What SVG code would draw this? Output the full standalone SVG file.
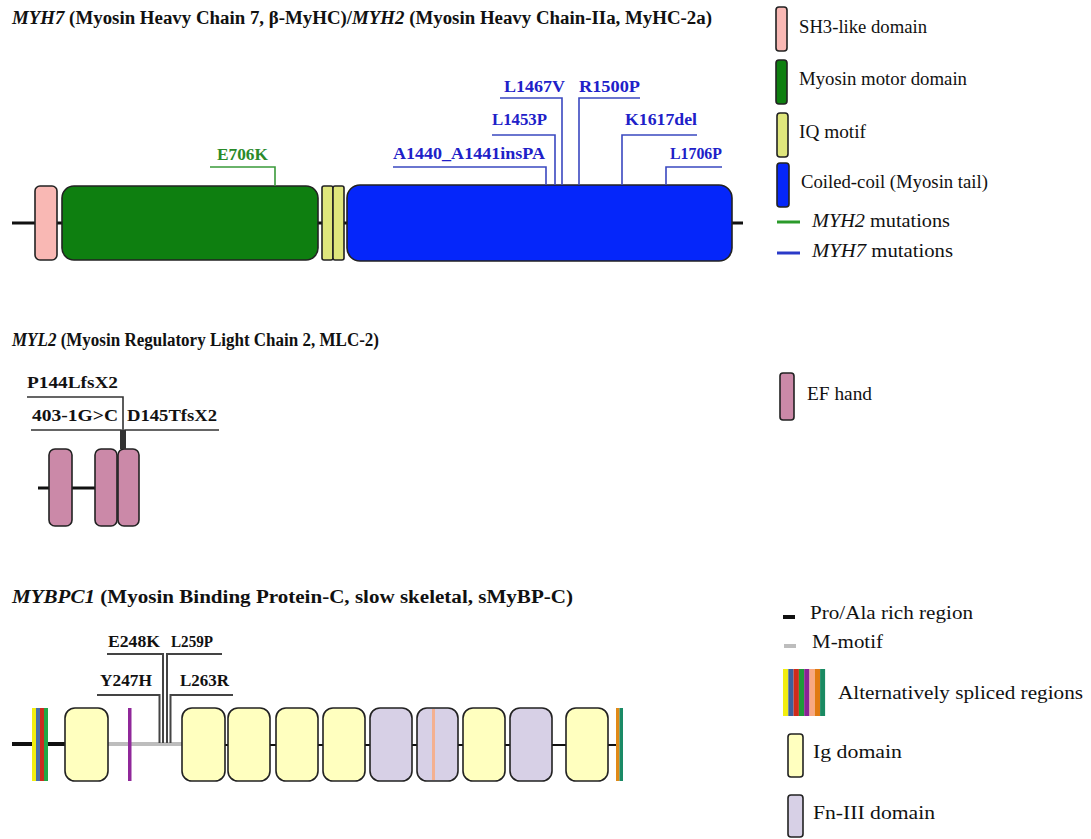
<svg xmlns="http://www.w3.org/2000/svg" width="1091" height="839" viewBox="0 0 1091 839" font-family="'Liberation Serif', 'Times New Roman', serif">
<style>
text{font-family:"Liberation Serif","Times New Roman",serif;fill:#111}
.t{font-size:18px;font-weight:bold}
.lg{font-size:18.5px}
.mb{font-size:17px;font-weight:bold;fill:#2020c8}
.mg{font-size:17px;font-weight:bold;fill:#2a8a2a}
.mk{font-size:17px;font-weight:bold;fill:#111}
.bl{stroke:#3a48c0;stroke-width:1.6;fill:none}
.gl{stroke:#3a9a3a;stroke-width:1.6;fill:none}
.kl{stroke:#333;stroke-width:1.6;fill:none}
.gk{stroke:#444;stroke-width:2;fill:none}
.bk{stroke:#111;stroke-width:3}
.thin{stroke:#111;stroke-width:2}
.dom{stroke:#222;stroke-width:1.6}
.ig{fill:#ffffbf}
.fn{fill:#d7d0e6}
</style>

<!-- Titles -->
<text class="t" x="12" y="24" textLength="700" lengthAdjust="spacingAndGlyphs"><tspan font-style="italic">MYH7</tspan> (Myosin Heavy Chain 7, β-MyHC)/<tspan font-style="italic">MYH2</tspan> (Myosin Heavy Chain-IIa, MyHC-2a)</text>
<text class="t" x="12" y="346" textLength="367" lengthAdjust="spacingAndGlyphs"><tspan font-style="italic">MYL2</tspan> (Myosin Regulatory Light Chain 2, MLC-2)</text>
<text class="t" x="12" y="603" textLength="561" lengthAdjust="spacingAndGlyphs"><tspan font-style="italic">MYBPC1</tspan> (Myosin Binding Protein-C, slow skeletal, sMyBP-C)</text>

<!-- MYH7 / MYH2 protein -->
<g id="myh-backbone"><line class="bk" x1="12" y1="223" x2="743" y2="223"/></g>
<g id="sh3"><rect class="dom" x="35" y="186" width="22" height="74" rx="5" fill="#f9b8b4"/></g>
<g id="motor"><rect class="dom" x="62" y="186" width="256" height="74" rx="12" fill="#0e7f10"/></g>
<g id="iq1"><rect class="dom" x="322" y="186" width="11" height="74" rx="2" fill="#dfe67c"/></g>
<g id="iq2"><rect class="dom" x="333" y="186" width="11" height="74" rx="2" fill="#dfe67c"/></g>
<g id="coiled"><rect class="dom" x="347" y="185" width="385" height="76" rx="13" fill="#0526fa"/></g>

<!-- MYL2 protein -->
<g id="myl2-backbone"><line class="bk" x1="38" y1="488" x2="96" y2="488"/></g>
<g id="ef1"><rect class="dom" x="49" y="449" width="23" height="77" rx="6" fill="#cb89a8"/></g>
<g id="ef2"><rect class="dom" x="95" y="449" width="22" height="77" rx="6" fill="#cb89a8"/></g>
<g id="ef3"><rect class="dom" x="118" y="449" width="21" height="77" rx="6" fill="#cb89a8"/></g>

<!-- MYBPC1 protein -->
<g id="mybpc-backbone">
<line stroke="#111" stroke-width="4" x1="12" y1="744" x2="66" y2="744"/>
<line stroke="#bdbdbd" stroke-width="4" x1="108" y1="744" x2="183" y2="744"/>
<line class="thin" x1="550" y1="745" x2="567" y2="745"/>
<line class="thin" x1="606" y1="745" x2="618" y2="745"/>
<line class="thin" x1="224" y1="745" x2="230" y2="745"/>
<line class="thin" x1="269" y1="745" x2="277" y2="745"/>
<line class="thin" x1="316" y1="745" x2="324" y2="745"/>
<line class="thin" x1="364" y1="745" x2="371" y2="745"/>
<line class="thin" x1="411" y1="745" x2="418" y2="745"/>
<line class="thin" x1="457" y1="745" x2="464" y2="745"/>
<line class="thin" x1="504" y1="745" x2="511" y2="745"/>
</g>
<g id="splice-left">
<rect x="32" y="708" width="4" height="73" fill="#f2ee10"/>
<rect x="36" y="708" width="4" height="73" fill="#4a6ea8"/>
<rect x="40" y="708" width="4" height="73" fill="#cc2a20"/>
<rect x="44" y="708" width="4" height="73" fill="#22a646"/>
</g>
<g id="ig1"><rect class="dom ig" x="65" y="708" width="43" height="73" rx="10"/></g>
<g id="pa-purple"><rect x="128" y="708" width="3.5" height="73" fill="#90289a"/></g>
<g id="ig2"><rect class="dom ig" x="182" y="708" width="43" height="73" rx="10"/></g>
<g id="ig3"><rect class="dom ig" x="228" y="708" width="42" height="73" rx="10"/></g>
<g id="ig4"><rect class="dom ig" x="276" y="708" width="42" height="73" rx="10"/></g>
<g id="ig5"><rect class="dom ig" x="323" y="708" width="42" height="73" rx="10"/></g>
<g id="fn1"><rect class="dom fn" x="370" y="708" width="42" height="73" rx="10"/></g>
<g id="fn2"><rect class="dom fn" x="417" y="708" width="41" height="73" rx="10"/><rect x="432" y="709" width="3" height="71" fill="#f4b090"/></g>
<g id="ig6"><rect class="dom ig" x="463" y="708" width="42" height="73" rx="10"/></g>
<g id="fn3"><rect class="dom fn" x="510" y="708" width="42" height="73" rx="10"/></g>
<g id="ig7"><rect class="dom ig" x="566" y="708" width="42" height="73" rx="10"/></g>
<g id="splice-right">
<rect x="616" y="708" width="3.5" height="73" fill="#e08a18"/>
<rect x="619.5" y="708" width="3.5" height="73" fill="#1a8a66"/>
</g>

<!-- Mutation connectors -->
<g id="connectors">
<polyline class="gl" points="210,167 275,167 275,186"/>
<polyline class="bl" points="500,98 562,98 562,185"/>
<polyline class="bl" points="640,98 579,98 579,185"/>
<polyline class="bl" points="492,135 555,135 555,185"/>
<polyline class="bl" points="697,135 622,135 622,185"/>
<polyline class="bl" points="393,167 546,167 546,185"/>
<polyline class="bl" points="722,167 666,167 666,185"/>
<polyline class="kl" points="27,397 123,397 123,449"/>
<polyline class="kl" points="31,430 121,430 121,449"/>
<polyline class="kl" points="219,430 125,430 125,449"/>
<rect x="120" y="430" width="6" height="19" fill="#333"/>
<polyline class="gk" points="107,654 163,654 163,743"/>
<polyline class="gk" points="222,654 167,654 167,743"/>
<polyline class="gk" points="97,695 159.5,695 159.5,743"/>
<polyline class="gk" points="233,695 170.5,695 170.5,743"/>
</g>

<!-- Mutation labels -->
<g id="labels">
<text class="mg" x="217" y="160" textLength="51" lengthAdjust="spacingAndGlyphs">E706K</text>
<text class="mb" x="504" y="92" textLength="61" lengthAdjust="spacingAndGlyphs">L1467V</text>
<text class="mb" x="579" y="92" textLength="61" lengthAdjust="spacingAndGlyphs">R1500P</text>
<text class="mb" x="492" y="125" textLength="55" lengthAdjust="spacingAndGlyphs">L1453P</text>
<text class="mb" x="625" y="125" textLength="72" lengthAdjust="spacingAndGlyphs">K1617del</text>
<text class="mb" x="393" y="159" textLength="152" lengthAdjust="spacingAndGlyphs">A1440_A1441insPA</text>
<text class="mb" x="670" y="159" textLength="52" lengthAdjust="spacingAndGlyphs">L1706P</text>
<text class="mk" x="27" y="388" textLength="91" lengthAdjust="spacingAndGlyphs">P144LfsX2</text>
<text class="mk" x="32" y="421" textLength="86" lengthAdjust="spacingAndGlyphs">403-1G&gt;C</text>
<text class="mk" x="127" y="421" textLength="90" lengthAdjust="spacingAndGlyphs">D145TfsX2</text>
<text class="mk" x="108" y="647" textLength="52" lengthAdjust="spacingAndGlyphs">E248K</text>
<text class="mk" x="171" y="647" textLength="42" lengthAdjust="spacingAndGlyphs">L259P</text>
<text class="mk" x="100" y="686" textLength="52" lengthAdjust="spacingAndGlyphs">Y247H</text>
<text class="mk" x="180" y="686" textLength="49" lengthAdjust="spacingAndGlyphs">L263R</text>
</g>

<!-- Legend -->
<g id="legend-sh3"><rect class="dom" x="776" y="7" width="11" height="44" rx="3" fill="#f9b8b4"/><text class="lg" x="799" y="33" textLength="128" lengthAdjust="spacingAndGlyphs">SH3-like domain</text></g>
<g id="legend-motor"><rect class="dom" x="776" y="60" width="11" height="44" rx="3" fill="#0e7f10"/><text class="lg" x="799" y="85" textLength="168" lengthAdjust="spacingAndGlyphs">Myosin motor domain</text></g>
<g id="legend-iq"><rect class="dom" x="777" y="113" width="11" height="44" rx="3" fill="#dfe67c"/><text class="lg" x="799" y="138" textLength="67" lengthAdjust="spacingAndGlyphs">IQ motif</text></g>
<g id="legend-coiled"><rect class="dom" x="777" y="163" width="12" height="44" rx="3" fill="#0526fa"/><text class="lg" x="801" y="188" textLength="187" lengthAdjust="spacingAndGlyphs">Coiled-coil (Myosin tail)</text></g>
<g id="legend-myh2"><line stroke="#2a9a2a" stroke-width="3" x1="777" y1="222" x2="800" y2="222"/><text class="lg" x="812" y="227" textLength="138" lengthAdjust="spacingAndGlyphs"><tspan font-style="italic">MYH2</tspan> mutations</text></g>
<g id="legend-myh7"><line stroke="#2a3ac8" stroke-width="3" x1="777" y1="253" x2="800" y2="253"/><text class="lg" x="812" y="257" textLength="141" lengthAdjust="spacingAndGlyphs"><tspan font-style="italic">MYH7</tspan>  mutations</text></g>
<g id="legend-ef"><rect class="dom" x="780" y="373" width="14" height="47" rx="3" fill="#cb89a8"/><text class="lg" x="807" y="400" textLength="65" lengthAdjust="spacingAndGlyphs">EF hand</text></g>
<g id="legend-proala"><line stroke="#111" stroke-width="4" x1="783" y1="617" x2="795" y2="617"/><text class="lg" x="810" y="619" textLength="163" lengthAdjust="spacingAndGlyphs">Pro/Ala rich region</text></g>
<g id="legend-mmotif"><line stroke="#bdbdbd" stroke-width="4" x1="784" y1="646" x2="796" y2="646"/><text class="lg" x="812" y="648" textLength="71" lengthAdjust="spacingAndGlyphs">M-motif</text></g>
<g id="legend-splice">
<rect x="783" y="669" width="5.3" height="47" fill="#f2ee10"/>
<rect x="788.3" y="669" width="5.3" height="47" fill="#3d5f9c"/>
<rect x="793.6" y="669" width="5.3" height="47" fill="#d02a1a"/>
<rect x="798.9" y="669" width="5.3" height="47" fill="#1f9a3a"/>
<rect x="804.2" y="669" width="5.3" height="47" fill="#8a2295"/>
<rect x="809.5" y="669" width="5.3" height="47" fill="#f8a882"/>
<rect x="814.8" y="669" width="5.3" height="47" fill="#e07a12"/>
<rect x="820.1" y="669" width="5" height="47" fill="#1a8a62"/>
<text class="lg" x="838" y="699" textLength="245" lengthAdjust="spacingAndGlyphs">Alternatively spliced regions</text>
</g>
<g id="legend-ig"><rect class="dom ig" x="788" y="734" width="15" height="43" rx="3"/><text class="lg" x="813" y="758" textLength="89" lengthAdjust="spacingAndGlyphs">Ig domain</text></g>
<g id="legend-fn"><rect class="dom fn" x="788" y="795" width="15" height="42" rx="3"/><text class="lg" x="813" y="819" textLength="122" lengthAdjust="spacingAndGlyphs">Fn-III domain</text></g>
</svg>
